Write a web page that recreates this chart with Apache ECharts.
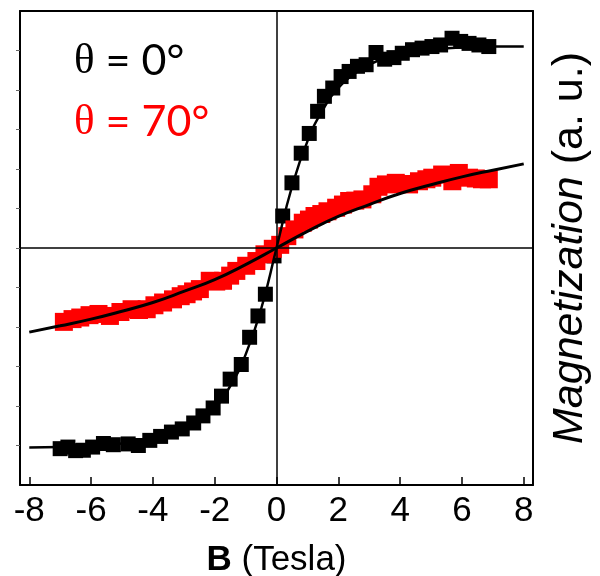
<!DOCTYPE html>
<html>
<head>
<meta charset="utf-8">
<script src="https://cdn.jsdelivr.net/npm/echarts@6/dist/echarts.min.js"></script>
<style>html,body{margin:0;padding:0;background:#fff;}#c{width:600px;height:576px;}</style>
</head>
<body>
<div id="c"></div>
<script>
// x tick labels (Tesla)
const xTicks = [-8, -6, -4, -2, 0, 2, 4, 6, 8];
const yTicks = [-5, -4, -3, -2, -1, 0, 1, 2, 3, 4, 5];

// theta = 0 deg measured points [B, M]
const black0 = [
  [-7.0,-5.08],[-6.75,-5.04],[-6.5,-5.13],[-6.25,-5.12],[-5.95,-5.04],[-5.6,-4.95],[-5.28,-4.98],
  [-4.8,-4.96],[-4.47,-5.0],[-4.1,-4.87],[-3.75,-4.77],[-3.4,-4.66],[-3.05,-4.58],[-2.68,-4.43],
  [-2.38,-4.25],[-2.05,-4.05],[-1.78,-3.75],[-1.5,-3.32],[-1.14,-2.95],[-0.87,-2.26],[-0.6,-1.72],
  [-0.36,-1.17],[-0.08,-0.2],
  [0.2,0.81],[0.5,1.65],[0.8,2.4],[1.06,2.9],[1.33,3.46],[1.55,3.84],[1.82,4.05],[2.09,4.34],
  [2.35,4.47],[2.62,4.6],[2.9,4.64],[3.22,4.95],[3.5,4.78],[3.8,4.82],[4.07,4.93],[4.4,5.02],
  [4.71,5.06],[5.03,5.1],[5.31,5.14],[5.68,5.31],[5.96,5.23],[6.23,5.18],[6.55,5.14],[6.87,5.1]
];
// theta = 70 deg measured points [B, M]
const red70 = [
  [-6.88,-1.87],[-6.6,-1.8],[-6.35,-1.76],[-6.05,-1.7],[-5.76,-1.67],[-5.39,-1.72],[-5.05,-1.62],
  [-4.69,-1.55],[-4.45,-1.57],[-4.2,-1.55],[-3.95,-1.45],[-3.67,-1.38],[-3.35,-1.3],[-3.1,-1.22],
  [-2.91,-1.17],[-2.7,-1.1],[-2.48,-1.04],[-2.16,-0.83],[-1.95,-0.85],[-1.73,-0.83],[-1.5,-0.7],
  [-1.3,-0.58],[-0.98,-0.45],[-0.65,-0.33],[-0.39,-0.16],[-0.12,-0.02],
  [0.12,0.08],[0.35,0.3],[0.58,0.47],[0.85,0.64],[1.05,0.72],[1.23,0.81],[1.45,0.86],[1.65,0.93],
  [1.93,1.02],[2.15,1.1],[2.35,1.19],[2.55,1.2],[2.78,1.23],[3.1,1.36],[3.3,1.55],[3.54,1.61],
  [3.86,1.65],[4.05,1.62],[4.29,1.61],[4.61,1.69],[4.85,1.74],[5.04,1.78],[5.36,1.86],[5.69,1.69],
  [5.9,1.9],[6.23,1.78],[6.45,1.76],[6.65,1.74],[6.87,1.74]
];
// fitted curves
const fit0 = [
  [-8,-5.05],[-7,-5.04],[-6,-5.0],[-5,-4.95],[-4,-4.85],[-3,-4.6],[-2.5,-4.35],[-2,-4.05],[-1.5,-3.5],
  [-1,-2.7],[-0.5,-1.55],[0,0],[0.5,1.55],[1,2.7],[1.5,3.5],[2,4.05],[2.5,4.4],[3,4.65],
  [4,4.9],[5,5.02],[6,5.08],[7,5.1],[8,5.1]
];
const fit70 = [
  [-8,-2.13],[-7,-1.97],[-6,-1.8],[-5,-1.6],[-4,-1.38],[-3,-1.1],[-2,-0.8],[-1,-0.42],[0,0],
  [1,0.42],[2,0.8],[3,1.1],[4,1.38],[5,1.6],[6,1.8],[7,1.97],[8,2.13]
];

const chart = echarts.init(document.getElementById('c'));
const FONT = '"Liberation Sans", Arial, sans-serif';
chart.setOption({
  animation: false,
  backgroundColor: '#fff',
  grid: { left: 20, right: 67, top: 11, bottom: 91, containLabel: false, outerBoundsMode: 'none' },
  xAxis: [{
    type: 'value', min: -8.3, max: 8.3,
    axisLine: { show: true, onZero: false, lineStyle: { color: '#000', width: 2 } },
    axisTick: { show: true, inside: true, length: 8, customValues: xTicks, lineStyle: { color: '#000', width: 1.5 } },
    axisLabel: { show: true, customValues: xTicks, margin: 9, fontSize: 35, color: '#000', fontFamily: FONT },
    splitLine: { show: false },
    name: '{b|B} (Tesla)', nameLocation: 'middle', nameGap: 58,
    nameTextStyle: { fontSize: 35, color: '#000', fontFamily: FONT, rich: { b: { fontSize: 35, fontWeight: 'bold', fontFamily: FONT } } }
  }, {
    type: 'value', min: -8.3, max: 8.3, position: 'top',
    axisLine: { show: true, onZero: false, lineStyle: { color: '#000', width: 2 } },
    axisTick: { show: false }, axisLabel: { show: false }, splitLine: { show: false }
  }],
  yAxis: [{
    type: 'value', min: -6, max: 6, position: 'left',
    axisLine: { show: true, onZero: false, lineStyle: { color: '#000', width: 2 } },
    axisTick: { show: true, inside: false, length: 4, customValues: yTicks, lineStyle: { color: '#666', width: 1 } },
    axisLabel: { show: false }, splitLine: { show: false }
  }, {
    type: 'value', min: -6, max: 6, position: 'right',
    axisLine: { show: true, onZero: false, lineStyle: { color: '#000', width: 2 } },
    axisTick: { show: false }, axisLabel: { show: false }, splitLine: { show: false },
    name: '{i|Magnetization} (a. u.)', nameLocation: 'middle', nameRotate: 90, nameGap: 16,
    nameTextStyle: { fontSize: 43, color: '#000', fontFamily: FONT, rich: { i: { fontSize: 43, fontStyle: 'italic', fontFamily: FONT } } }
  }],
  series: [
    {
      type: 'scatter', data: black0, symbol: 'rect', symbolSize: 15,
      itemStyle: { color: '#000', opacity: 1 }, z: 3,
      markLine: {
        silent: true, symbol: 'none', label: { show: false },
        lineStyle: { color: '#000', width: 1.5, type: 'solid' },
        data: [{ xAxis: 0 }, { yAxis: 0 }]
      }
    },
    { type: 'scatter', data: red70, symbol: 'rect', symbolSize: 18, itemStyle: { color: '#ff0000', opacity: 1 }, z: 4 },
    { type: 'line', data: fit0, smooth: true, showSymbol: false, lineStyle: { color: '#000', width: 2.5 }, z: 5 },
    { type: 'line', data: fit70, smooth: true, showSymbol: false, lineStyle: { color: '#000', width: 3 }, z: 5 }
  ],
  graphic: [
    { type: 'text', left: 74, top: 40, style: { text: '{t|θ} = 0°', fill: '#000', font: '43px Lato, sans-serif',
      rich: { t: { fontFamily: '"Liberation Serif", serif', fontSize: 43, fill: '#000' } } } },
    { type: 'text', left: 74, top: 101, style: { text: '{t|θ} = 70°', fill: '#ff0000', font: '43px Lato, sans-serif',
      rich: { t: { fontFamily: '"Liberation Serif", serif', fontSize: 43, fill: '#ff0000' } } } }
  ]
});
</script>
</body>
</html>
